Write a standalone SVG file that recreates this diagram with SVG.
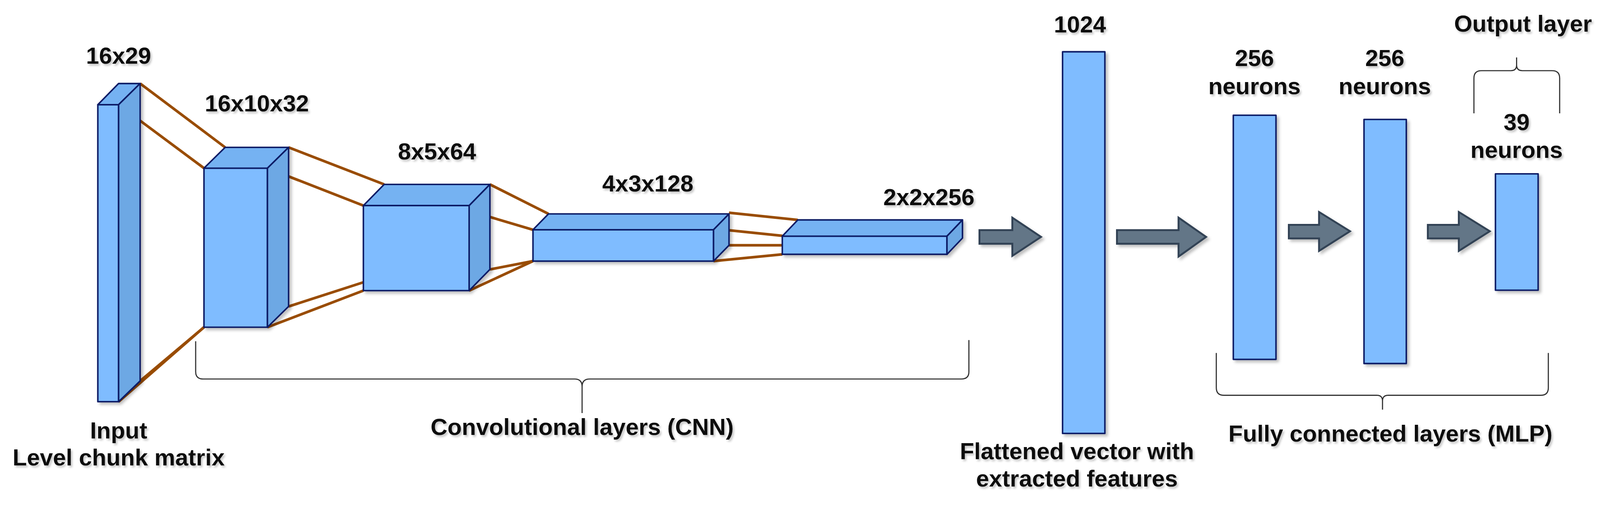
<svg xmlns="http://www.w3.org/2000/svg" width="4236" height="1323" viewBox="0 0 4236 1323">
<defs>
<filter id="sh" x="-10%" y="-10%" width="130%" height="130%"><feDropShadow dx="6" dy="6" stdDeviation="4" flood-color="#000" flood-opacity="0.25"/></filter>
<filter id="ts" x="-5%" y="-20%" width="115%" height="150%"><feDropShadow dx="4" dy="5" stdDeviation="3" flood-color="#000" flood-opacity="0.22"/></filter>
</defs>
<style>
.f{fill:#7FBCFF;stroke:#0B1A66;stroke-width:4;stroke-linejoin:round}
.t{fill:#75B2F2;stroke:#0B1A66;stroke-width:4;stroke-linejoin:round}
.s{fill:#6DA8E4;stroke:#0B1A66;stroke-width:4;stroke-linejoin:round}
.c{stroke:#994C00;stroke-width:7;fill:none}
.b{stroke:#333;stroke-width:3;fill:none}
.a{fill:#647687;stroke:#314354;stroke-width:5;stroke-linejoin:miter}
text{font-family:"Liberation Sans",Arial,sans-serif;font-weight:bold;font-size:62px;fill:#111;text-anchor:middle;filter:url(#ts)}
</style>
<rect width="4236" height="1323" fill="#fff"/>
<g transform="scale(0.967)">
<g id="connectors">
<line class="c" x1="371" y1="221" x2="596" y2="390"/>
<line class="c" x1="314" y1="277" x2="540" y2="445"/>
<line class="c" x1="314" y1="1063" x2="540" y2="866"/>
<line class="c" x1="371" y1="1008" x2="540" y2="866"/>
<line class="c" x1="764" y1="390" x2="1017" y2="488"/>
<line class="c" x1="708" y1="445" x2="962" y2="544"/>
<line class="c" x1="764" y1="811" x2="962" y2="747"/>
<line class="c" x1="708" y1="866" x2="962" y2="769"/>
<line class="c" x1="1297" y1="488" x2="1452" y2="566"/>
<line class="c" x1="1242" y1="558" x2="1411" y2="608"/>
<line class="c" x1="1297" y1="713" x2="1411" y2="691"/>
<line class="c" x1="1242" y1="769" x2="1411" y2="691"/>
<line class="c" x1="1930" y1="563" x2="2112" y2="582"/>
<line class="c" x1="1889" y1="605" x2="2071" y2="624"/>
<line class="c" x1="1930" y1="649" x2="2071" y2="649"/>
<line class="c" x1="1889" y1="691" x2="2071" y2="673"/>
<polygon class="a" filter="url(#sh)" points="2593,609 2680,609 2680,576 2756,627 2680,677 2680,645 2593,645"/>
<polygon class="a" filter="url(#sh)" points="2957,609 3120,609 3120,576 3193,627 3120,679 3120,645 2957,645"/>
<polygon class="a" filter="url(#sh)" points="3412,595 3492,595 3492,561 3574,612 3492,664 3492,631 3412,631"/>
<polygon class="a" filter="url(#sh)" points="3780,595 3862,595 3862,561 3944,612 3862,664 3862,631 3780,631"/>
</g>
<g id="input">
<g filter="url(#sh)">
<rect class="f" x="259" y="277" width="55" height="786"/>
<polygon class="t" points="259,277 314,221 371,221 314,277"/>
<polygon class="s" points="314,277 371,221 371,1008 314,1063"/>
</g>
<text x="314" y="169">16x29</text>
</g>
<g id="conv1">
<g filter="url(#sh)">
<rect class="f" x="540" y="445" width="168" height="421"/>
<polygon class="t" points="540,445 596,390 764,390 708,445"/>
<polygon class="s" points="708,445 764,390 764,811 708,866"/>
</g>
<text x="680" y="295">16x10x32</text>
</g>
<g id="conv2">
<g filter="url(#sh)">
<rect class="f" x="962" y="544" width="280" height="225"/>
<polygon class="t" points="962,544 1017,488 1297,488 1242,544"/>
<polygon class="s" points="1242,544 1297,488 1297,713 1242,769"/>
</g>
<text x="1157" y="422">8x5x64</text>
</g>
<g id="conv3">
<g filter="url(#sh)">
<rect class="f" x="1411" y="608" width="478" height="83"/>
<polygon class="t" points="1411,608 1452,566 1930,566 1889,608"/>
<polygon class="s" points="1889,608 1930,566 1930,649 1889,691"/>
</g>
<text x="1715" y="507">4x3x128</text>
</g>
<g id="conv4">
<g filter="url(#sh)">
<rect class="f" x="2071" y="625" width="436" height="48"/>
<polygon class="t" points="2071,625 2112,582 2548,582 2507,625"/>
<polygon class="s" points="2507,625 2548,582 2548,630 2507,673"/>
</g>
<text x="2459" y="543">2x2x256</text>
</g>
<g id="flat">
<rect class="f" filter="url(#sh)" x="2813" y="137" width="112" height="1010"/>
<text x="2859" y="86">1024</text>
<text x="2851" y="1215">Flattened vector with</text>
<text x="2851" y="1288">extracted features</text>
</g>
<g id="fc1">
<rect class="f" filter="url(#sh)" x="3265" y="305" width="113" height="646"/>
<text x="3321" y="175">256</text>
<text x="3321" y="249">neurons</text>
</g>
<g id="fc2">
<rect class="f" filter="url(#sh)" x="3611" y="316" width="112" height="646"/>
<text x="3666" y="175">256</text>
<text x="3666" y="249">neurons</text>
</g>
<g id="out">
<rect class="f" filter="url(#sh)" x="3959" y="460" width="113" height="308"/>
<text x="4015" y="344">39</text>
<text x="4015" y="418">neurons</text>
<text x="4032" y="84">Output layer</text>
</g>
<g id="braces">
<path class="b" d="M518,903 V984 Q518,1003 538,1003 H1521 Q1541,1003 1541,1023 V1093 M1541,1023 Q1541,1003 1561,1003 H2545 Q2565,1003 2565,984 V900"/>
<path class="b" d="M3220,934 V1026 Q3220,1046 3240,1046 H3645 Q3660,1046 3660,1061 V1084 M3660,1061 Q3660,1046 3675,1046 H4079 Q4099,1046 4099,1026 V934"/>
<path class="b" d="M3902,300 V207 Q3902,187 3922,187 H4000 Q4015,187 4015,172 V152 M4015,172 Q4015,187 4030,187 H4109 Q4129,187 4129,207 V300"/>
<text x="314" y="1160">Input</text>
<text x="314" y="1232">Level chunk matrix</text>
<text x="1541" y="1151">Convolutional layers (CNN)</text>
<text x="3681" y="1169">Fully connected layers (MLP)</text>
</g>
</g>
</svg>
